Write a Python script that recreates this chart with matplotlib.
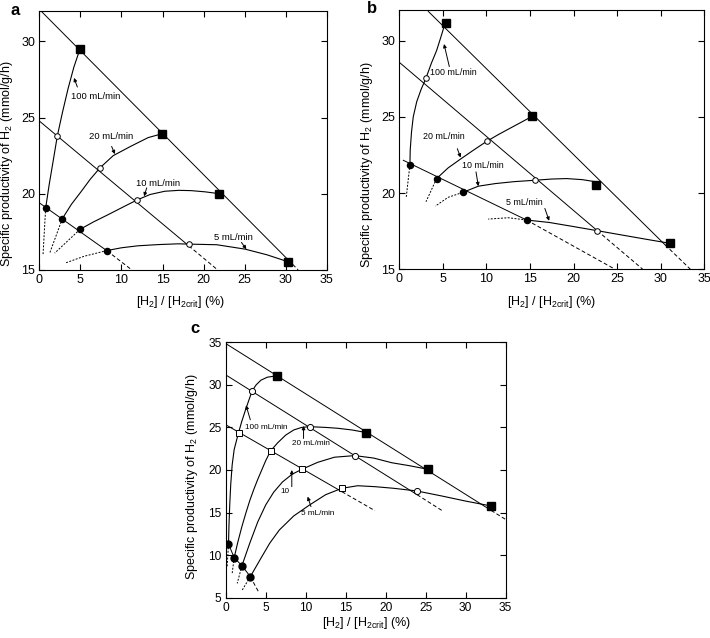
import matplotlib.pyplot as plt

plt.rcParams['font.family'] = ['Liberation Sans', 'DejaVu Sans']
plt.rcParams['mathtext.fontset'] = 'custom'
plt.rcParams['mathtext.rm'] = 'Liberation Sans'
plt.rcParams['mathtext.it'] = 'Liberation Sans:italic'
plt.rcParams['mathtext.default'] = 'regular'

flows = ['100 mL/min', '20 mL/min', '10 mL/min', '5 mL/min']

# ---- panel a ----
a_sq_x = [4.95, 14.98, 21.9, 30.3]
a_sq_y = [29.5, 23.94, 20.0, 15.53]
a_oc_x = [2.19, 7.39, 11.9, 18.19]
a_oc_y = [23.79, 21.7, 19.59, 16.69]
a_fc_x = [0.77, 2.8, 4.95, 8.24]
a_fc_y = [19.06, 18.36, 17.66, 16.25]

# straight lines: last point is the end of the dashed tail
a_lines_x = [[0.0, 30.3, 31.5], [0.0, 18.19, 21.7], [0.0, 8.24, 11.25]]
a_lines_y = [[32.1, 15.65, 15.0], [24.77, 16.58, 15.0], [19.4, 16.25, 15.0]]

a_curve_x = [[0.77, 1.2, 1.7, 2.19, 2.8, 3.5, 4.2, 4.95],
             [2.8, 3.9, 5.12, 6.2, 7.39, 9.0, 11.2, 13.24, 14.98],
             [4.95, 6.6, 8.36, 10.1, 11.9, 13.5, 15.27, 17.0, 18.5, 20.2, 21.9],
             [8.24, 10.0, 12.0, 14.5, 16.9, 18.19, 21.6, 25.05, 27.7, 30.3]]
a_curve_y = [[19.06, 20.6, 22.2, 23.79, 25.3, 26.9, 28.3, 29.5],
             [18.36, 19.3, 20.16, 20.95, 21.7, 22.5, 23.13, 23.68, 23.94],
             [17.66, 18.15, 18.62, 19.1, 19.59, 19.95, 20.16, 20.22, 20.2, 20.12, 20.0],
             [16.27, 16.45, 16.58, 16.66, 16.71, 16.69, 16.65, 16.36, 15.99, 15.53]]
a_ext_x = [[0.77, 0.45], [2.8, 1.26], [4.95, 1.87], [8.24, 5.5, 3.1]]
a_ext_y = [[19.06, 16.0], [18.36, 16.1], [17.66, 16.1], [16.27, 15.9, 15.44]]

# ---- panel b ----
b_sq_x = [5.36, 15.23, 22.53, 31.06]
b_sq_y = [31.13, 25.03, 20.56, 16.7]
b_oc_x = [3.1, 10.02, 15.57, 22.72]
b_oc_y = [27.54, 23.39, 20.84, 17.53]
b_fc_x = [1.22, 4.28, 7.27, 14.6]
b_fc_y = [21.87, 20.95, 20.04, 18.23]

b_lines_x = [[3.33, 30.5, 33.4], [0.0, 22.72, 27.93], [0.46, 14.6, 24.75]]
b_lines_y = [[31.92, 16.6, 15.0], [28.58, 17.53, 15.0], [22.15, 18.23, 15.0]]

b_curve_x = [[1.22, 1.25, 1.4, 1.6, 2.0, 2.5, 3.06, 3.7, 4.28, 4.75, 5.13],
             [4.28, 5.6, 7.1, 8.6, 10.02, 11.4, 12.7, 14.0, 15.23],
             [7.27, 9.07, 11.0, 13.2, 15.57, 17.5, 19.2, 21.0, 22.65],
             [14.6, 17.2, 20.0, 22.72, 25.5, 28.3, 31.06]]
b_curve_y = [[21.87, 22.8, 24.0, 25.0, 26.0, 26.8, 27.54, 28.55, 29.35, 30.2, 30.91],
             [20.95, 21.65, 22.26, 22.85, 23.39, 23.85, 24.25, 24.65, 25.03],
             [20.04, 20.45, 20.62, 20.75, 20.84, 20.92, 20.95, 20.88, 20.73],
             [18.23, 18.07, 17.8, 17.53, 17.25, 16.97, 16.7]]
b_ext_x = [[1.22, 0.8], [4.28, 3.6, 3.06], [7.27, 5.6, 4.13], [14.6, 12.5, 10.2]]
b_ext_y = [[21.87, 19.75], [20.95, 20.1, 19.43], [20.04, 19.72, 19.14], [18.23, 18.38, 18.29]]

# ---- panel c ----
c_sq_x = [6.36, 17.6, 25.28, 33.2]
c_sq_y = [31.05, 24.39, 20.08, 15.77]
c_oc_x = [3.29, 10.53, 16.13, 23.93]
c_oc_y = [29.29, 25.09, 21.69, 17.53]
c_os_x = [1.6, 5.6, 9.52, 14.53]
c_os_y = [24.39, 22.23, 20.08, 17.85]
c_fc_x = [0.34, 1.05, 2.02, 3.07]
c_fc_y = [11.31, 9.7, 8.76, 7.47]

c_lines_x = [[0.0, 33.2, 35.0], [0.2, 23.93, 27.08], [0.04, 14.53, 18.66],
             [0.34, 1.05, 2.02, 3.07, 4.09]]
c_lines_y = [[34.85, 15.25, 14.2], [31.05, 17.1, 15.22], [25.29, 17.45, 15.22],
             [11.31, 9.7, 8.76, 7.47, 5.7]]

c_curve_x = [[0.34, 0.4, 0.5, 0.62, 0.8, 1.05, 1.35, 1.6, 2.0, 2.5, 3.0, 3.29, 3.8, 4.4, 5.2, 6.3],
             [1.05, 1.5, 2.0, 2.5, 3.0, 3.5, 4.0, 4.5, 5.0, 5.6, 6.5, 7.5, 8.5, 9.5, 10.45, 12.5, 14.0, 15.8, 17.6],
             [2.02, 3.0, 4.0, 5.0, 6.0, 7.1, 8.3, 9.52, 11.5, 13.6, 16.13, 18.5, 20.77, 23.0, 25.28],
             [3.07, 4.5, 5.5, 6.7, 8.5, 10.5, 12.5, 14.53, 16.5, 18.66, 21.0, 23.93, 27.0, 30.0, 33.2]]
c_curve_y = [[11.31, 13.5, 16.0, 18.3, 20.6, 22.4, 23.5, 24.39, 25.7, 27.15, 28.5, 29.29, 30.0, 30.55, 30.9, 31.05],
             [9.7, 11.5, 13.3, 14.9, 16.4, 17.7, 18.9, 20.0, 21.1, 22.23, 23.2, 24.1, 24.7, 25.0, 25.09, 25.0, 24.9, 24.7, 24.39],
             [8.76, 11.4, 13.9, 15.9, 17.4, 18.6, 19.5, 20.08, 20.9, 21.5, 21.69, 21.4, 20.85, 20.5, 20.08],
             [7.47, 9.8, 11.4, 12.95, 14.6, 15.9, 17.1, 17.85, 18.15, 18.04, 17.85, 17.53, 16.95, 16.35, 15.77]]
c_ext_x = [[0.34, 0.17], [1.05, 0.8], [2.02, 1.43], [3.07, 2.06]]
c_ext_y = [[11.31, 8.64], [9.7, 7.86], [8.76, 6.68], [7.47, 5.9]]

c_flow_labels = ['100 mL/min', '20 mL/min', '10', '5 mL/min']


def draw_lines(ax, xs, ys):
    for x, y in zip(xs, ys):
        ax.plot(x[:-1], y[:-1], color='k', lw=0.7)
        ax.plot(x[-2:], y[-2:], color='k', lw=0.7, ls=(0, (4, 2.5)))


def draw_curves(ax, cx, cy, ex, ey):
    for x, y in zip(cx, cy):
        ax.plot(x, y, color='k', lw=0.8)
    for x, y in zip(ex, ey):
        ax.plot(x, y, color='k', lw=0.7, ls=(0, (2, 1.5)))


def note(ax, label, text_xy, tail, head, size):
    ax.text(text_xy[0], text_xy[1], label, fontsize=size, ha='left', va='center')
    ax.annotate('', xy=head, xytext=tail,
                arrowprops=dict(arrowstyle='-|>', color='k', lw=0.7,
                                mutation_scale=5, shrinkA=0, shrinkB=0))


def style_axes(ax, ylim, yticks, tick_size, ylab_xy, xlab_xy):
    ax.set_xlim(0, 35)
    ax.set_ylim(*ylim)
    ax.set_xticks(range(0, 36, 5))
    ax.set_yticks(yticks)
    ax.tick_params(direction='in', top=True, right=True, length=4, width=0.8,
                   labelsize=tick_size, pad=3)
    for s in ax.spines.values():
        s.set_linewidth(0.8)
    ax.text(ylab_xy[0], ylab_xy[1], 'Specific productivity of H$_2$ (mmol/g/h)',
            rotation=90, ha='center', va='center', fontsize=9, transform=ax.transAxes)
    ax.text(xlab_xy[0], xlab_xy[1], '[H$_2$] / [H$_{2crit}$] (%)',
            ha='center', va='center', fontsize=9, transform=ax.transAxes)


fig = plt.figure(figsize=(7.1, 6.38), dpi=100)

# panel a
ax = fig.add_axes([0.0554, 0.577, 0.405, 0.406])
draw_lines(ax, a_lines_x, a_lines_y)
draw_curves(ax, a_curve_x, a_curve_y, a_ext_x, a_ext_y)
ax.plot(a_sq_x, a_sq_y, 's', color='k', ms=5.3, ls='none')
ax.plot(a_oc_x, a_oc_y, 'o', mfc='white', mec='k', mew=0.7, ms=4, ls='none')
ax.plot(a_fc_x, a_fc_y, 'o', color='k', ms=4.4, ls='none')
note(ax, flows[0], (3.9, 26.4), (4.63, 27.0), (4.22, 27.6), 6.8)
note(ax, flows[1], (6.1, 23.74), (8.8, 23.1), (9.2, 22.6), 6.8)
note(ax, flows[2], (11.8, 20.7), (13.07, 20.38), (12.75, 19.83), 6.8)
note(ax, flows[3], (21.2, 17.1), (24.6, 16.8), (25.2, 16.36), 6.8)
style_axes(ax, (15, 32), range(15, 31, 5), 9, (-0.111, 0.409), (0.49, -0.123))
fig.text(0.021, 0.984, 'a', fontsize=12, fontweight='bold', ha='center', va='center')

# panel b
ax = fig.add_axes([0.5624, 0.578, 0.4296, 0.406])
draw_lines(ax, b_lines_x, b_lines_y)
draw_curves(ax, b_curve_x, b_curve_y, b_ext_x, b_ext_y)
ax.plot(b_sq_x, b_sq_y, 's', color='k', ms=5.3, ls='none')
ax.plot(b_oc_x, b_oc_y, 'o', mfc='white', mec='k', mew=0.7, ms=4, ls='none')
ax.plot(b_fc_x, b_fc_y, 'o', color='k', ms=4.4, ls='none')
note(ax, flows[0], (3.5, 27.93), (5.74, 28.3), (5.13, 29.78), 6.4)
note(ax, flows[1], (2.68, 23.68), (6.66, 22.91), (7.04, 22.33), 6.4)
note(ax, flows[2], (7.15, 21.78), (8.8, 21.39), (9.07, 20.45), 6.4)
note(ax, flows[3], (12.24, 19.38), (16.7, 18.99), (17.2, 18.18), 6.4)
style_axes(ax, (15, 32), range(15, 31, 5), 9, (-0.106, 0.402), (0.5, -0.126))
fig.text(0.5235, 0.987, 'b', fontsize=12, fontweight='bold', ha='center', va='center')

# panel c
ax = fig.add_axes([0.318, 0.0632, 0.394, 0.4003])
draw_lines(ax, c_lines_x, c_lines_y)
draw_curves(ax, c_curve_x, c_curve_y, c_ext_x, c_ext_y)
ax.plot(c_sq_x, c_sq_y, 's', color='k', ms=5.3, ls='none')
ax.plot(c_oc_x, c_oc_y, 'o', mfc='white', mec='k', mew=0.7, ms=4.4, ls='none')
ax.plot(c_os_x, c_os_y, 's', mfc='white', mec='k', mew=0.7, ms=4.2, ls='none')
ax.plot(c_fc_x, c_fc_y, 'o', color='k', ms=5, ls='none')
note(ax, c_flow_labels[0], (2.44, 25.0), (3.07, 25.9), (2.53, 27.6), 5.9)
note(ax, c_flow_labels[1], (8.26, 23.1), (9.73, 23.7), (9.73, 25.17), 5.9)
note(ax, c_flow_labels[2], (6.78, 17.46), (8.26, 18.04), (8.26, 20.0), 5.9)
note(ax, c_flow_labels[3], (9.39, 14.9), (10.66, 15.7), (10.24, 16.87), 5.9)
style_axes(ax, (5, 35), range(5, 36, 5), 8.6, (-0.119, 0.474), (0.503, -0.1))
fig.text(0.2746, 0.4854, 'c', fontsize=12, fontweight='bold', ha='center', va='center')

fig.savefig('out.png', dpi=100)
